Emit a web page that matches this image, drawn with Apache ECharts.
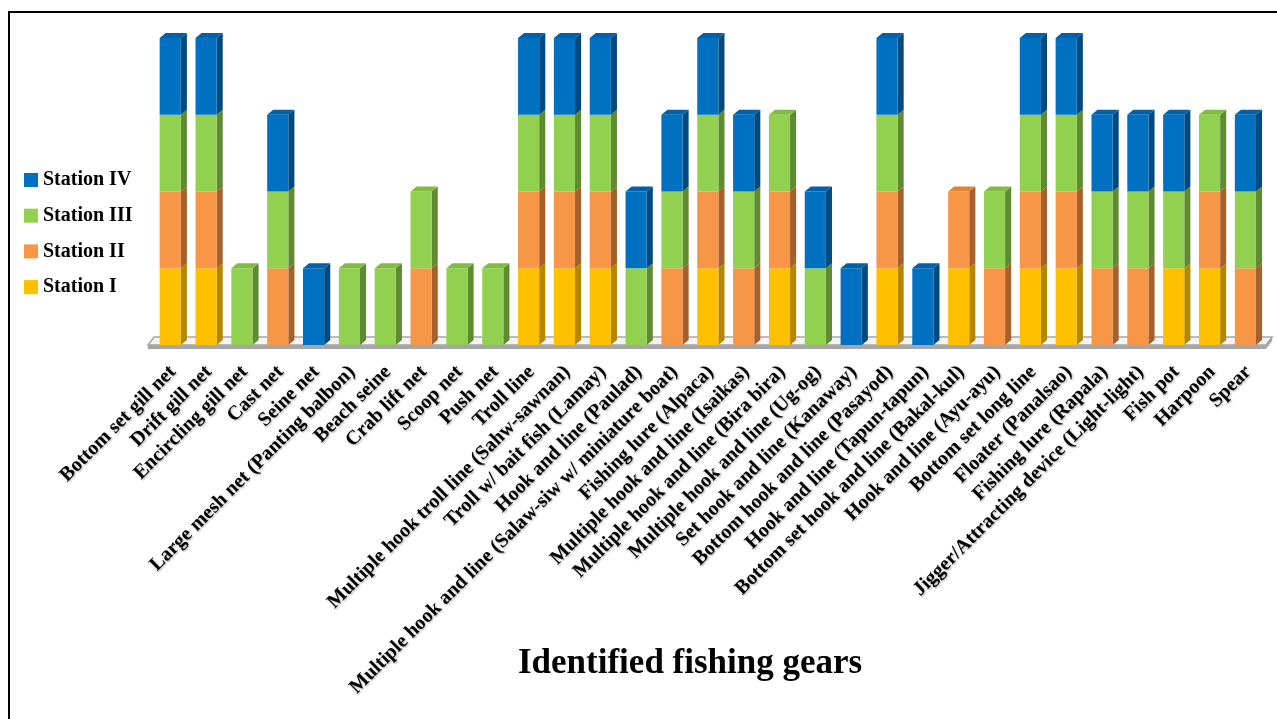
<!DOCTYPE html>
<html>
<head>
<meta charset="utf-8">
<title>Identified fishing gears</title>
<script src="https://cdn.jsdelivr.net/npm/echarts@6/dist/echarts.min.js"></script>
<style>
  html, body { margin: 0; padding: 0; background: #fff; }
  #chart { width: 1277px; height: 719px; }
</style>
</head>
<body>
<div id="chart"></div>
<script>
// Fishing gears recorded at each station (1 = recorded, 0 = not recorded)
const gears = [
  'Bottom set gill net',
  'Drift gill net',
  'Encircling gill net',
  'Cast net',
  'Seine net',
  'Large mesh net (Panting balbon)',
  'Beach seine',
  'Crab lift net',
  'Scoop net',
  'Push net',
  'Troll line',
  'Multiple hook troll line (Sahw-sawnan)',
  'Troll w/ bait fish (Lamay)',
  'Hook and line (Paulad)',
  'Multiple hook and line (Salaw-siw w/ miniature boat)',
  'Fishing lure (Alpaca)',
  'Multiple hook and line (Isaikas)',
  'Multiple hook and line (Bira bira)',
  'Multiple hook and line (Ug-og)',
  'Set hook and line (Kanaway)',
  'Bottom hook and line (Pasayod)',
  'Hook and line (Tapun-tapun)',
  'Bottom set hook and line (Bakal-kul)',
  'Hook and line (Ayu-ayu)',
  'Bottom set long line',
  'Floater (Panalsao)',
  'Fishing lure (Rapala)',
  'Jigger/Attracting device (Light-light)',
  'Fish pot',
  'Harpoon',
  'Spear'
];

const stationI   = [1,1,0,0,0,0,0,0,0,0,1,1,1,0,0,1,0,1,0,0,1,0,1,0,1,1,0,0,1,1,0];
const stationII  = [1,1,0,1,0,0,0,1,0,0,1,1,1,0,1,1,1,1,0,0,1,0,1,1,1,1,1,1,0,1,1];
const stationIII = [1,1,1,1,0,1,1,1,1,1,1,1,1,1,1,1,1,1,1,0,1,0,0,1,1,1,1,1,1,1,1];
const stationIV  = [1,1,0,1,1,0,0,0,0,0,1,1,1,1,1,1,1,0,1,1,1,1,0,0,1,1,1,1,1,0,1];

const stationNames = ['Station I', 'Station II', 'Station III', 'Station IV'];
const stationValues = [stationI, stationII, stationIII, stationIV];

// front, side and top face colours per station
const palette = [
  { front: '#FFC000', side: '#B48700', top: '#E6AD00' },
  { front: '#F79646', side: '#A6602B', top: '#E0843A' },
  { front: '#92D050', side: '#5E8A32', top: '#80BC42' },
  { front: '#0070C0', side: '#004A80', top: '#0060A8' }
];

const serif = "'Liberation Serif', 'Times New Roman', serif";

// stacked base of station k for gear i
function baseOf(k, i) {
  let s = 0;
  for (let j = 0; j < k; j++) s += stationValues[j][i];
  return s;
}
function isTop(k, i) {
  for (let j = k + 1; j < stationValues.length; j++) {
    if (stationValues[j][i]) return false;
  }
  return true;
}

function makeRenderer(k) {
  const col = palette[k];
  return function (params, api) {
    const i = api.value(0);
    const v = api.value(1);
    if (!v) return null;
    const base = baseOf(k, i);
    const pLow = api.coord([i, base]);
    const pHigh = api.coord([i, base + v]);
    const band = api.size([1, 0])[0];
    const fw = band * 0.59;
    const dx = band * 0.17;
    const dy = band * 0.14;
    const fx = pLow[0] - band * 0.37;
    const yb = pLow[1];
    const yt = pHigh[1];
    const children = [
      {
        type: 'polygon',
        shape: { points: [[fx + fw, yb], [fx + fw + dx, yb - dy], [fx + fw + dx, yt - dy], [fx + fw, yt]] },
        style: { fill: col.side }
      },
      {
        type: 'rect',
        shape: { x: fx, y: yt, width: fw, height: yb - yt },
        style: { fill: col.front }
      }
    ];
    if (isTop(k, i)) {
      children.push({
        type: 'polygon',
        shape: { points: [[fx, yt], [fx + dx, yt - dy], [fx + fw + dx, yt - dy], [fx + fw, yt]] },
        style: { fill: col.top }
      });
    }
    return { type: 'group', children: children };
  };
}

// floor slab under the bars, sized from the plotting area
function renderFloor(params, api) {
  const cs = params.coordSys;
  const band = cs.width / gears.length;
  const dx = band * 0.17;
  const dy = band * 0.14;
  const x0 = cs.x - 7;
  const x1 = cs.x + cs.width;
  const y = cs.y + cs.height;
  return {
    type: 'group',
    children: [
      {
        type: 'polygon',
        shape: { points: [[x0, y], [x0 + dx, y - dy - 3], [x1 + dx, y - dy - 3], [x1, y]] },
        style: { fill: '#F4F4F4', stroke: '#A6A6A6', lineWidth: 1.5 }
      },
      {
        type: 'polygon',
        shape: { points: [[x0, y], [x1, y], [x1 + dx, y - dy - 3], [x1 + dx, y - dy + 1], [x1, y + 4], [x0, y + 4]] },
        style: { fill: '#A6A6A6' }
      }
    ]
  };
}

const series = [
  {
    type: 'custom',
    name: 'floor',
    renderItem: renderFloor,
    data: [[0, 0]],
    encode: { x: 0, y: 1 },
    silent: true,
    z: 1
  }
];
stationNames.forEach(function (name, k) {
  series.push({
    type: 'custom',
    name: name,
    renderItem: makeRenderer(k),
    data: stationValues[k].map(function (v, i) { return [i, v]; }),
    encode: { x: 0, y: 1 },
    itemStyle: { color: palette[k].front },
    z: 2
  });
});

const chart = echarts.init(document.getElementById('chart'), null, { renderer: 'canvas' });
chart.setOption({
  animation: false,
  backgroundColor: '#ffffff',
  title: {
    text: 'Identified fishing gears',
    left: 513,
    top: 641,
    textStyle: { fontFamily: serif, fontSize: 35, fontWeight: 'bold', color: '#000' }
  },
  legend: {
    orient: 'vertical',
    left: 19,
    top: 165,
    itemWidth: 14,
    itemHeight: 14,
    itemGap: 15.7,
    icon: 'rect',
    data: ['Station IV', 'Station III', 'Station II', 'Station I'],
    textStyle: { fontFamily: serif, fontSize: 20, fontWeight: 'bold', color: '#000', lineHeight: 20 }
  },
  grid: { left: 155, right: 11, top: 38, bottom: 374 },
  xAxis: {
    type: 'category',
    data: gears,
    axisLine: { show: false },
    axisTick: { show: false },
    axisLabel: {
      interval: 0,
      rotate: 45,
      margin: 24,
      fontFamily: serif,
      fontSize: 20,
      fontWeight: 'bold',
      color: '#000',
      textShadowColor: 'rgba(0,0,0,0.35)',
      textShadowBlur: 2,
      textShadowOffsetX: 1,
      textShadowOffsetY: 1
    }
  },
  yAxis: {
    type: 'value',
    min: 0,
    max: 4,
    interval: 1,
    show: false,
    splitLine: { show: false }
  },
  graphic: [
    {
      type: 'rect',
      shape: { x: 9, y: 12, width: 1400, height: 800 },
      style: { fill: 'none', stroke: '#000', lineWidth: 2 },
      silent: true,
      z: 100
    }
  ],
  series: series
});
</script>
</body>
</html>
